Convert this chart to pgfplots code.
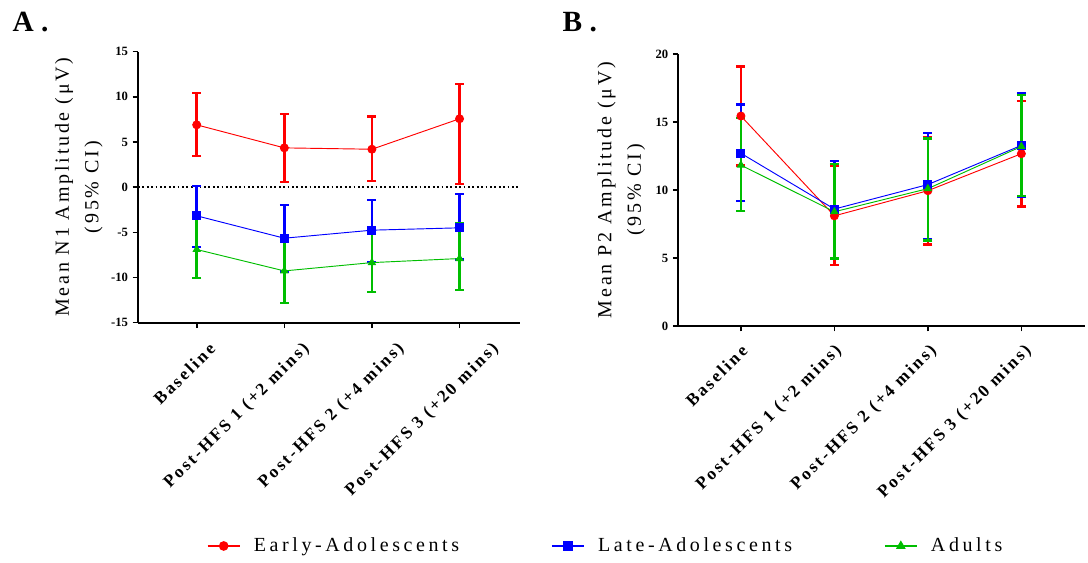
\documentclass[border=0pt]{standalone}
\usepackage{pgfplots}
\pgfplotsset{compat=1.18}
\usepackage{pgfplotstable}
\usepackage{fontspec}
\setmainfont{Liberation Serif}
\newfontfamily\lsp[LetterSpace=14]{Liberation Serif}
\newfontfamily\lspl[LetterSpace=18]{Liberation Serif}
\newfontfamily\lspb[LetterSpace=14]{Liberation Serif}
\definecolor{cred}{RGB}{255,0,0}
\definecolor{cblue}{RGB}{0,0,255}
\definecolor{cgreen}{RGB}{0,190,0}

\pgfplotstableread{
x y hi lo
0 6.90 10.40 3.43
1 4.35 8.10 0.55
2 4.20 7.80 0.66
3 7.57 11.40 0.35
}\AearlyT
\pgfplotstableread{
x y hi lo
0 -3.17 0.15 -6.60
1 -5.65 -1.95 -9.35
2 -4.76 -1.44 -8.27
3 -4.50 -0.78 -8.00
}\AlateT
\pgfplotstableread{
x y hi lo
0 -6.90 -3.40 -10.04
1 -9.27 -5.68 -12.80
2 -8.35 -4.95 -11.60
3 -7.90 -4.00 -11.40
}\AadultT
\pgfplotstableread{
x y hi lo
0 15.44 19.07 11.80
1 8.10 11.80 4.50
2 9.95 13.85 6.00
3 12.67 16.55 8.78
}\BearlyT
\pgfplotstableread{
x y hi lo
0 12.70 16.28 9.20
1 8.60 12.13 5.00
2 10.40 14.20 6.40
3 13.28 17.13 9.50
}\BlateT
\pgfplotstableread{
x y hi lo
0 11.83 15.30 8.45
1 8.40 11.90 4.97
2 10.10 13.80 6.30
3 13.20 17.00 9.55
}\BadultT

\pgfplotsset{
  panel/.style={
    scale only axis,
    axis lines=left,
    axis line style={-, line width=1.4pt},
    tick style={black, line width=1.2pt},
    major tick length=4pt,
    tick align=outside,
    xtick={0,1,2,3},
    xticklabels={Baseline,Post-HFS 1 (+2 mins),Post-HFS 2 (+4 mins),Post-HFS 3 (+20 mins)},
    yticklabel style={font=\bfseries\fontsize{9.5}{10}\selectfont},
    /pgf/number format/assume math mode=true,
    error bars/y dir=both,
    error bars/y explicit,
    every axis y label/.style={rotate=90, anchor=center, align=center,
       font=\lsp\fontsize{15}{22}\selectfont},
  },
  ser/.style={#1, line width=0.7pt, mark size=3pt, mark options={solid, fill=#1},
    error bars/error bar style={#1, line width=1.9pt},
    error bars/error mark options={rotate=90, mark size=3.4pt, line width=1.9pt, #1}},
}

\begin{document}
\begin{tikzpicture}
\useasboundingbox (0,0) rectangle (816pt,421.5pt);
\node[font=\bfseries\fontsize{22}{24}\selectfont, anchor=base west] at (6pt,398pt) {A .};
\node[font=\bfseries\fontsize{22}{24}\selectfont, anchor=base west] at (418.5pt,398pt) {B .};

\begin{axis}[panel,
  at={(103.5pt,179.5pt)}, anchor=south west,
  width=286.5pt, height=203.25pt,
  xmin=-0.67, xmax=3.69, ymin=-15, ymax=15,
  ytick={-15,-10,...,15},
  xticklabel style={font=\lspb\bfseries\fontsize{13}{14}\selectfont, xshift={(14+5.3*\ticknum)*1pt}, yshift=-11pt, rotate=45, anchor=east},
  every axis y label/.append style={at={(axis description cs:-0.155,0.5)}},
  ylabel={Mean N1 Amplitude (μV)\\(95\% CI)},
  legend columns=3,
  legend style={at={(axis description cs:1.225,-0.824)}, anchor=center, draw=none,
    font=\lspl\fontsize{15}{17}\selectfont,
    /tikz/every odd column/.append style={column sep=8pt},
    /tikz/every even column/.append style={column sep=67pt}},
  legend image code/.code={\draw[mark repeat=2, mark phase=2, #1, line width=1.2pt] plot coordinates {(0pt,0pt) (12pt,0pt) (24pt,0pt)};},
]
\draw[dotted, line width=1.3pt] (axis cs:-0.67,0) -- (axis cs:3.69,0);
\addplot+[ser=cred, mark=*]
  table[x=x, y=y, y error plus expr=\thisrow{hi}-\thisrow{y}, y error minus expr=\thisrow{y}-\thisrow{lo}] {\AearlyT};
\addlegendentry{Early-Adolescents}
\addplot+[ser=cblue, mark=square*]
  table[x=x, y=y, y error plus expr=\thisrow{hi}-\thisrow{y}, y error minus expr=\thisrow{y}-\thisrow{lo}] {\AlateT};
\addlegendentry{Late-Adolescents}
\addplot+[ser=cgreen, mark=triangle*]
  table[x=x, y=y, y error plus expr=\thisrow{hi}-\thisrow{y}, y error minus expr=\thisrow{y}-\thisrow{lo}] {\AadultT};
\addlegendentry{Adults}
\end{axis}

\begin{axis}[panel,
  at={(508.7pt,177pt)}, anchor=south west,
  width=305pt, height=204pt,
  xmin=-0.67, xmax=3.68, ymin=0, ymax=20,
  ytick={0,5,...,20},
  xticklabel style={font=\lspb\bfseries\fontsize{13}{14}\selectfont, xshift={(5+1*\ticknum)*1pt}, yshift=-10pt, rotate=45, anchor=east},
  every axis y label/.append style={at={(axis description cs:-0.14,0.5)}},
  ylabel={Mean P2 Amplitude (μV)\\(95\% CI)},
]
\addplot+[ser=cred, mark=*]
  table[x=x, y=y, y error plus expr=\thisrow{hi}-\thisrow{y}, y error minus expr=\thisrow{y}-\thisrow{lo}] {\BearlyT};
\addplot+[ser=cblue, mark=square*]
  table[x=x, y=y, y error plus expr=\thisrow{hi}-\thisrow{y}, y error minus expr=\thisrow{y}-\thisrow{lo}] {\BlateT};
\addplot+[ser=cgreen, mark=triangle*]
  table[x=x, y=y, y error plus expr=\thisrow{hi}-\thisrow{y}, y error minus expr=\thisrow{y}-\thisrow{lo}] {\BadultT};
\end{axis}
\end{tikzpicture}
\end{document}
